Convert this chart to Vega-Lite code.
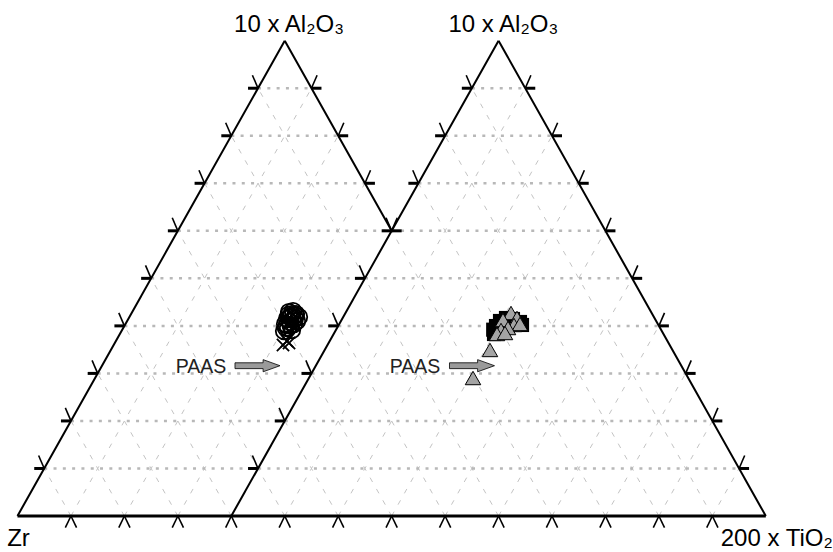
{
  "$schema": "https://vega.github.io/schema/vega-lite/v6.json",
  "width": 833,
  "height": 552,
  "autosize": {"type": "none"},
  "padding": 0,
  "background": "white",
  "config": {"view": {"stroke": null}, "font": "Liberation Sans"},
  "datasets": {
    "hgrid": [
      {"x": 0.05, "y": 0.1, "x2": 1.35, "y2": 0.1},
      {"x": 0.1, "y": 0.2, "x2": 1.3, "y2": 0.2},
      {"x": 0.15, "y": 0.3, "x2": 1.25, "y2": 0.3},
      {"x": 0.2, "y": 0.4, "x2": 1.2, "y2": 0.4},
      {"x": 0.25, "y": 0.5, "x2": 1.15, "y2": 0.5},
      {"x": 0.3, "y": 0.6, "x2": 1.1, "y2": 0.6},
      {"x": 0.35, "y": 0.7, "x2": 0.65, "y2": 0.7},
      {"x": 0.75, "y": 0.7, "x2": 1.05, "y2": 0.7},
      {"x": 0.4, "y": 0.8, "x2": 0.6, "y2": 0.8},
      {"x": 0.8, "y": 0.8, "x2": 1.0, "y2": 0.8},
      {"x": 0.45, "y": 0.9, "x2": 0.55, "y2": 0.9},
      {"x": 0.85, "y": 0.9, "x2": 0.95, "y2": 0.9}
    ],
    "dgrid": [
      {"x": 0.1, "y": 0, "x2": 0.05, "y2": 0.1},
      {"x": 0.2, "y": 0, "x2": 0.1, "y2": 0.2},
      {"x": 0.3, "y": 0, "x2": 0.15, "y2": 0.3},
      {"x": 0.4, "y": 0, "x2": 0.2, "y2": 0.4},
      {"x": 0.5, "y": 0, "x2": 0.25, "y2": 0.5},
      {"x": 0.6, "y": 0, "x2": 0.3, "y2": 0.6},
      {"x": 0.7, "y": 0, "x2": 0.35, "y2": 0.7},
      {"x": 0.8, "y": 0, "x2": 0.4, "y2": 0.8},
      {"x": 0.9, "y": 0, "x2": 0.45, "y2": 0.9},
      {"x": 1.0, "y": 0, "x2": 0.7, "y2": 0.6},
      {"x": 1.1, "y": 0, "x2": 0.75, "y2": 0.7},
      {"x": 1.2, "y": 0, "x2": 0.8, "y2": 0.8},
      {"x": 1.3, "y": 0, "x2": 0.85, "y2": 0.9},
      {"x": 0.1, "y": 0, "x2": 0.55, "y2": 0.9},
      {"x": 0.2, "y": 0, "x2": 0.6, "y2": 0.8},
      {"x": 0.3, "y": 0, "x2": 0.65, "y2": 0.7},
      {"x": 0.5, "y": 0, "x2": 0.95, "y2": 0.9},
      {"x": 0.6, "y": 0, "x2": 1.0, "y2": 0.8},
      {"x": 0.7, "y": 0, "x2": 1.05, "y2": 0.7},
      {"x": 0.8, "y": 0, "x2": 1.1, "y2": 0.6},
      {"x": 0.9, "y": 0, "x2": 1.15, "y2": 0.5},
      {"x": 1.0, "y": 0, "x2": 1.2, "y2": 0.4},
      {"x": 1.1, "y": 0, "x2": 1.25, "y2": 0.3},
      {"x": 1.2, "y": 0, "x2": 1.3, "y2": 0.2},
      {"x": 1.3, "y": 0, "x2": 1.35, "y2": 0.1}
    ],
    "edges": [
      {"x": 0, "y": 0, "x2": 0.5, "y2": 1},
      {"x": 0.5, "y": 1, "x2": 0.7, "y2": 0.6},
      {"x": 0.4, "y": 0, "x2": 0.9, "y2": 1},
      {"x": 0.9, "y": 1, "x2": 1.4, "y2": 0}
    ],
    "base": [
      {"x": 0, "y": 0, "x2": 1.4, "y2": 0}
    ],
    "bars": [
      {"x": 0.05, "y": 0.1, "x2": 0.0313, "y2": 0.1},
      {"x": 0.1, "y": 0.2, "x2": 0.0813, "y2": 0.2},
      {"x": 0.15, "y": 0.3, "x2": 0.1313, "y2": 0.3},
      {"x": 0.2, "y": 0.4, "x2": 0.1813, "y2": 0.4},
      {"x": 0.25, "y": 0.5, "x2": 0.2313, "y2": 0.5},
      {"x": 0.3, "y": 0.6, "x2": 0.2813, "y2": 0.6},
      {"x": 0.35, "y": 0.7, "x2": 0.3313, "y2": 0.7},
      {"x": 0.4, "y": 0.8, "x2": 0.3813, "y2": 0.8},
      {"x": 0.45, "y": 0.9, "x2": 0.4313, "y2": 0.9},
      {"x": 0.7, "y": 0.6, "x2": 0.7187, "y2": 0.6},
      {"x": 0.65, "y": 0.7, "x2": 0.6687, "y2": 0.7},
      {"x": 0.6, "y": 0.8, "x2": 0.6187, "y2": 0.8},
      {"x": 0.55, "y": 0.9, "x2": 0.5687, "y2": 0.9},
      {"x": 0.45, "y": 0.1, "x2": 0.4313, "y2": 0.1},
      {"x": 0.5, "y": 0.2, "x2": 0.4813, "y2": 0.2},
      {"x": 0.55, "y": 0.3, "x2": 0.5313, "y2": 0.3},
      {"x": 0.6, "y": 0.4, "x2": 0.5813, "y2": 0.4},
      {"x": 0.65, "y": 0.5, "x2": 0.6313, "y2": 0.5},
      {"x": 0.7, "y": 0.6, "x2": 0.6813, "y2": 0.6},
      {"x": 0.75, "y": 0.7, "x2": 0.7313, "y2": 0.7},
      {"x": 0.8, "y": 0.8, "x2": 0.7813, "y2": 0.8},
      {"x": 0.85, "y": 0.9, "x2": 0.8313, "y2": 0.9},
      {"x": 1.35, "y": 0.1, "x2": 1.3687, "y2": 0.1},
      {"x": 1.3, "y": 0.2, "x2": 1.3187, "y2": 0.2},
      {"x": 1.25, "y": 0.3, "x2": 1.2687, "y2": 0.3},
      {"x": 1.2, "y": 0.4, "x2": 1.2187, "y2": 0.4},
      {"x": 1.15, "y": 0.5, "x2": 1.1687, "y2": 0.5},
      {"x": 1.1, "y": 0.6, "x2": 1.1187, "y2": 0.6},
      {"x": 1.05, "y": 0.7, "x2": 1.0687, "y2": 0.7},
      {"x": 1.0, "y": 0.8, "x2": 1.0187, "y2": 0.8},
      {"x": 0.95, "y": 0.9, "x2": 0.9687, "y2": 0.9}
    ],
    "tdiag": [
      {"x": 0.05, "y": 0.1, "x2": 0.0395, "y2": 0.1274},
      {"x": 0.1, "y": 0.2, "x2": 0.0895, "y2": 0.2274},
      {"x": 0.15, "y": 0.3, "x2": 0.1395, "y2": 0.3274},
      {"x": 0.2, "y": 0.4, "x2": 0.1895, "y2": 0.4274},
      {"x": 0.25, "y": 0.5, "x2": 0.2395, "y2": 0.5274},
      {"x": 0.3, "y": 0.6, "x2": 0.2895, "y2": 0.6274},
      {"x": 0.35, "y": 0.7, "x2": 0.3395, "y2": 0.7274},
      {"x": 0.4, "y": 0.8, "x2": 0.3895, "y2": 0.8274},
      {"x": 0.45, "y": 0.9, "x2": 0.4395, "y2": 0.9274},
      {"x": 0.7, "y": 0.6, "x2": 0.7105, "y2": 0.6274},
      {"x": 0.65, "y": 0.7, "x2": 0.6605, "y2": 0.7274},
      {"x": 0.6, "y": 0.8, "x2": 0.6105, "y2": 0.8274},
      {"x": 0.55, "y": 0.9, "x2": 0.5605, "y2": 0.9274},
      {"x": 0.45, "y": 0.1, "x2": 0.4395, "y2": 0.1274},
      {"x": 0.5, "y": 0.2, "x2": 0.4895, "y2": 0.2274},
      {"x": 0.55, "y": 0.3, "x2": 0.5395, "y2": 0.3274},
      {"x": 0.6, "y": 0.4, "x2": 0.5895, "y2": 0.4274},
      {"x": 0.65, "y": 0.5, "x2": 0.6395, "y2": 0.5274},
      {"x": 0.7, "y": 0.6, "x2": 0.6895, "y2": 0.6274},
      {"x": 0.75, "y": 0.7, "x2": 0.7395, "y2": 0.7274},
      {"x": 0.8, "y": 0.8, "x2": 0.7895, "y2": 0.8274},
      {"x": 0.85, "y": 0.9, "x2": 0.8395, "y2": 0.9274},
      {"x": 1.35, "y": 0.1, "x2": 1.3605, "y2": 0.1274},
      {"x": 1.3, "y": 0.2, "x2": 1.3105, "y2": 0.2274},
      {"x": 1.25, "y": 0.3, "x2": 1.2605, "y2": 0.3274},
      {"x": 1.2, "y": 0.4, "x2": 1.2105, "y2": 0.4274},
      {"x": 1.15, "y": 0.5, "x2": 1.1605, "y2": 0.5274},
      {"x": 1.1, "y": 0.6, "x2": 1.1105, "y2": 0.6274},
      {"x": 1.05, "y": 0.7, "x2": 1.0605, "y2": 0.7274},
      {"x": 1.0, "y": 0.8, "x2": 1.0105, "y2": 0.8274},
      {"x": 0.95, "y": 0.9, "x2": 0.9605, "y2": 0.9274},
      {"x": 0.1, "y": 0, "x2": 0.0895, "y2": -0.0245},
      {"x": 0.1, "y": 0, "x2": 0.1105, "y2": -0.0245},
      {"x": 0.2, "y": 0, "x2": 0.1895, "y2": -0.0245},
      {"x": 0.2, "y": 0, "x2": 0.2105, "y2": -0.0245},
      {"x": 0.3, "y": 0, "x2": 0.2895, "y2": -0.0245},
      {"x": 0.3, "y": 0, "x2": 0.3105, "y2": -0.0245},
      {"x": 0.4, "y": 0, "x2": 0.3895, "y2": -0.0245},
      {"x": 0.4, "y": 0, "x2": 0.4105, "y2": -0.0245},
      {"x": 0.5, "y": 0, "x2": 0.4895, "y2": -0.0245},
      {"x": 0.5, "y": 0, "x2": 0.5105, "y2": -0.0245},
      {"x": 0.6, "y": 0, "x2": 0.5895, "y2": -0.0245},
      {"x": 0.6, "y": 0, "x2": 0.6105, "y2": -0.0245},
      {"x": 0.7, "y": 0, "x2": 0.6895, "y2": -0.0245},
      {"x": 0.7, "y": 0, "x2": 0.7105, "y2": -0.0245},
      {"x": 0.8, "y": 0, "x2": 0.7895, "y2": -0.0245},
      {"x": 0.8, "y": 0, "x2": 0.8105, "y2": -0.0245},
      {"x": 0.9, "y": 0, "x2": 0.8895, "y2": -0.0245},
      {"x": 0.9, "y": 0, "x2": 0.9105, "y2": -0.0245},
      {"x": 1.0, "y": 0, "x2": 0.9895, "y2": -0.0245},
      {"x": 1.0, "y": 0, "x2": 1.0105, "y2": -0.0245},
      {"x": 1.1, "y": 0, "x2": 1.0895, "y2": -0.0245},
      {"x": 1.1, "y": 0, "x2": 1.1105, "y2": -0.0245},
      {"x": 1.2, "y": 0, "x2": 1.1895, "y2": -0.0245},
      {"x": 1.2, "y": 0, "x2": 1.2105, "y2": -0.0245},
      {"x": 1.3, "y": 0, "x2": 1.2895, "y2": -0.0245},
      {"x": 1.3, "y": 0, "x2": 1.3105, "y2": -0.0245}
    ],
    "circles": [
      {"x": 0.5080, "y": 0.4292}, {"x": 0.5155, "y": 0.4313}, {"x": 0.5211, "y": 0.4250},
      {"x": 0.5117, "y": 0.4208}, {"x": 0.5042, "y": 0.4145}, {"x": 0.5192, "y": 0.4166},
      {"x": 0.5267, "y": 0.4187}, {"x": 0.5098, "y": 0.4082}, {"x": 0.5005, "y": 0.4040},
      {"x": 0.5173, "y": 0.4040}, {"x": 0.5061, "y": 0.3955}, {"x": 0.5136, "y": 0.3913},
      {"x": 0.4986, "y": 0.3892}, {"x": 0.5229, "y": 0.4103}, {"x": 0.5130, "y": 0.4250},
      {"x": 0.5040, "y": 0.4020}, {"x": 0.5100, "y": 0.4180}, {"x": 0.5160, "y": 0.4120},
      {"x": 0.5070, "y": 0.4230}, {"x": 0.5200, "y": 0.4220}, {"x": 0.5020, "y": 0.3960},
      {"x": 0.5110, "y": 0.4010}
    ],
    "crosses": [
      {"x": 0.4967, "y": 0.3598}, {"x": 0.5042, "y": 0.3682}, {"x": 0.5080, "y": 0.3640}
    ],
    "squares": [
      {"x": 0.8915, "y": 0.3829}, {"x": 0.8952, "y": 0.3997}, {"x": 0.9027, "y": 0.4103},
      {"x": 0.9139, "y": 0.4166}, {"x": 0.9270, "y": 0.4145}, {"x": 0.9401, "y": 0.4082},
      {"x": 0.9439, "y": 0.4019}, {"x": 0.8990, "y": 0.3892}, {"x": 0.9177, "y": 0.4019},
      {"x": 0.8900, "y": 0.3920}
    ],
    "triangles": [
      {"x": 0.9233, "y": 0.4271}, {"x": 0.9083, "y": 0.4124}, {"x": 0.9345, "y": 0.4166},
      {"x": 0.9289, "y": 0.4019}, {"x": 0.9401, "y": 0.4040}, {"x": 0.9177, "y": 0.3955},
      {"x": 0.9046, "y": 0.3913}, {"x": 0.8971, "y": 0.3829}, {"x": 0.9121, "y": 0.3850},
      {"x": 0.8840, "y": 0.3493}, {"x": 0.8522, "y": 0.2903}
    ],
    "arrows": [
      {"x": 0.4490, "y": 0.3162}, {"x": 0.8503, "y": 0.3162}
    ],
    "paas": [
      {"x": 0.3433, "y": 0.3019, "label": "PAAS"}, {"x": 0.7437, "y": 0.3019, "label": "PAAS"}
    ],
    "titles": [
      {"x": 0.508, "y": 1.0177, "label": "10 x Al₂O₃"}, {"x": 0.9089, "y": 1.0177, "label": "10 x Al₂O₃"}
    ],
    "zr": [{"x": 0.0019, "y": -0.0631, "label": "Zr"}],
    "ti": [{"x": 1.3156, "y": -0.0631, "label": "200 x TiO₂"}]
  },
  "encoding": {
    "x": {"field": "x", "type": "quantitative", "scale": {"domain": [-0.032741, 1.525725], "nice": false, "zero": false}, "axis": null},
    "y": {"field": "y", "type": "quantitative", "scale": {"domain": [-0.075742, 1.08563], "nice": false, "zero": false}, "axis": null}
  },
  "layer": [
    {"data": {"name": "dgrid"}, "mark": {"type": "rule", "color": "#c4c4c4", "strokeWidth": 1, "strokeDash": [5, 8]},
     "encoding": {"x2": {"field": "x2"}, "y2": {"field": "y2"}}},
    {"data": {"name": "hgrid"}, "mark": {"type": "rule", "color": "#b8b8b8", "strokeWidth": 2.5, "strokeDash": [3, 6.3]},
     "encoding": {"x2": {"field": "x2"}, "y2": {"field": "y2"}}},
    {"data": {"name": "edges"}, "mark": {"type": "rule", "color": "black", "strokeWidth": 2},
     "encoding": {"x2": {"field": "x2"}, "y2": {"field": "y2"}}},
    {"data": {"name": "base"}, "mark": {"type": "rule", "color": "black", "strokeWidth": 3.2},
     "encoding": {"x2": {"field": "x2"}, "y2": {"field": "y2"}}},
    {"data": {"name": "bars"}, "mark": {"type": "rule", "color": "black", "strokeWidth": 3},
     "encoding": {"x2": {"field": "x2"}, "y2": {"field": "y2"}}},
    {"data": {"name": "tdiag"}, "mark": {"type": "rule", "color": "black", "strokeWidth": 1.6},
     "encoding": {"x2": {"field": "x2"}, "y2": {"field": "y2"}}},
    {"data": {"name": "crosses"}, "mark": {"type": "point", "shape": "M-1,-1L1,1M1,-1L-1,1", "filled": false, "stroke": "black", "strokeWidth": 1.8, "size": 150, "opacity": 1}},
    {"data": {"name": "circles"}, "mark": {"type": "point", "shape": "circle", "filled": false, "stroke": "black", "strokeWidth": 1.8, "size": 270, "opacity": 1}},
    {"data": {"name": "squares"}, "mark": {"type": "square", "color": "black", "size": 200, "opacity": 1}},
    {"data": {"name": "triangles"}, "mark": {"type": "point", "shape": "triangle-up", "filled": true, "fill": "#a4a4a4", "stroke": "black", "strokeWidth": 1, "size": 240, "opacity": 1}},
    {"data": {"name": "arrows"}, "mark": {"type": "point", "shape": "M-1,-0.13L0.25,-0.13L0.25,-0.27L1,0L0.25,0.27L0.25,0.13L-1,0.13Z", "filled": true, "fill": "#9a9a9a", "stroke": "black", "strokeWidth": 0.8, "size": 2025, "opacity": 1}},
    {"data": {"name": "paas"}, "mark": {"type": "text", "font": "Liberation Sans", "fontSize": 19.5, "align": "center", "baseline": "alphabetic", "color": "#222222"},
     "encoding": {"text": {"field": "label"}}},
    {"data": {"name": "titles"}, "mark": {"type": "text", "font": "Liberation Sans", "fontSize": 24, "align": "center", "baseline": "alphabetic", "color": "black"},
     "encoding": {"text": {"field": "label"}}},
    {"data": {"name": "zr"}, "mark": {"type": "text", "font": "Liberation Sans", "fontSize": 24, "align": "center", "baseline": "alphabetic", "color": "black"},
     "encoding": {"text": {"field": "label"}}},
    {"data": {"name": "ti"}, "mark": {"type": "text", "font": "Liberation Sans", "fontSize": 24, "align": "left", "baseline": "alphabetic", "color": "black"},
     "encoding": {"text": {"field": "label"}}}
  ]
}
